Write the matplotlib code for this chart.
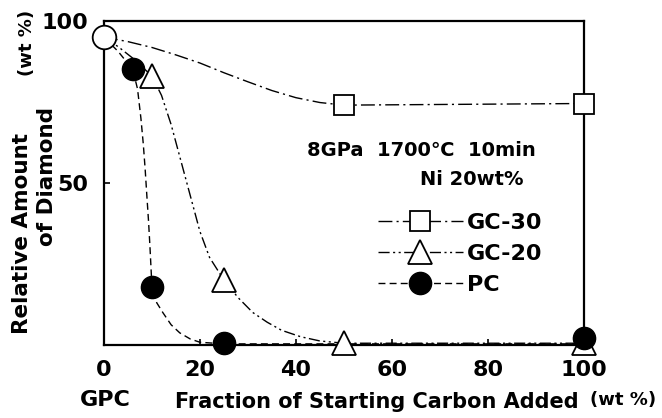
import matplotlib
matplotlib.use("Agg")
import matplotlib.pyplot as plt
from matplotlib.lines import Line2D

plt.rcParams['font.family'] = ['DejaVu Sans']
plt.rcParams['font.weight'] = 'bold'

# measured points (wt% added, relative amount of diamond wt%)
gpc_x, gpc_y = [0], [95]

gc30_x = [50, 100]
gc30_y = [74, 74.5]
gc20_x = [10, 25, 50, 100]
gc20_y = [83, 20, 0.5, 0.5]
pc_x = [6, 10, 25, 100]
pc_y = [85, 18, 0.5, 2]

# hand drawn guide curves
gc30_cx = [0, 5, 10, 15, 20, 25, 30, 35, 40, 45, 50, 100]
gc30_cy = [95, 93.6, 91.8, 89.5, 87, 84, 81.2, 78.5, 76.3, 74.8, 74, 74.5]
gc20_cx = [0, 3, 6, 10, 12, 14, 16, 18, 20, 22, 25, 28, 31, 34, 37, 41, 45, 50, 100]
gc20_cy = [95, 92, 88.5, 83, 77, 68, 57, 46, 35, 27, 20, 14.5, 10, 7, 4.5, 2.5, 1.2, 0.5, 0.5]
pc_cx = [0, 3, 6, 7, 7.7, 8.2, 8.6, 8.9, 9.3, 9.6, 10, 11, 12.3, 14, 15.8, 18, 20, 25, 100]
pc_cy = [95, 90.5, 85, 79, 70, 62, 54, 47, 38, 30, 18, 13, 9.9, 6.2, 3.7, 1.8, 0.8, 0.3, 0.3]

xticks = [0, 20, 40, 60, 80, 100]
yticks = [50, 100]

ls30 = (0, (10, 3, 1.5, 3))
ls20 = (0, (8, 2.5, 1.5, 2.5, 1.5, 2.5))
lspc = (0, (5, 3))

fig = plt.figure(figsize=(6.62, 4.18), dpi=100)
ax = fig.add_axes([0.157, 0.175, 0.725, 0.775])

ax.plot(gc30_cx, gc30_cy, color='black', lw=1.0, ls=ls30, zorder=2)
ax.plot(gc20_cx, gc20_cy, color='black', lw=1.0, ls=ls20, zorder=2)
ax.plot(pc_cx, pc_cy, color='black', lw=1.0, ls=lspc, zorder=2)

ax.plot(gc30_x, gc30_y, ls='none', marker='s', ms=15, mfc='white', mec='black', mew=1.3, clip_on=False, zorder=4)
ax.plot(gc20_x, gc20_y, ls='none', marker='^', ms=17, mfc='white', mec='black', mew=1.3, clip_on=False, zorder=4)
ax.plot(pc_x, pc_y, ls='none', marker='o', ms=16, mfc='black', mec='black', clip_on=False, zorder=5)
ax.plot(gpc_x, gpc_y, ls='none', marker='o', ms=17, mfc='white', mec='black', mew=1.3, clip_on=False, zorder=5)

ax.set_xlim(0, 100)
ax.set_ylim(0, 100)
ax.set_xticks(xticks)
ax.set_yticks(yticks)
ax.tick_params(direction='in', length=4, width=1.2, labelsize=16)
ax.tick_params(axis='x', pad=11)
ax.tick_params(axis='y', pad=11)
for s in ax.spines.values():
    s.set_linewidth(1.6)

ax.text(42.3, 60, "8GPa  1700℃  10min", fontsize=14, va='center', ha='left')
ax.text(65.8, 51, "Ni 20wt%", fontsize=14, va='center', ha='left')

handles = [
    Line2D([], [], color='black', lw=1.0, ls=ls30, marker='s', ms=15, mfc='white', mec='black', mew=1.3),
    Line2D([], [], color='black', lw=1.0, ls=ls20, marker='^', ms=17, mfc='white', mec='black', mew=1.3),
    Line2D([], [], color='black', lw=1.0, ls=lspc, marker='o', ms=16, mfc='black', mec='black'),
]
ax.legend(handles, ['GC-30', 'GC-20', 'PC'], loc='center left', bbox_to_anchor=(0.548, 0.28),
          frameon=False, handlelength=3.8, handletextpad=0.2, labelspacing=0.5, borderpad=0,
          numpoints=1, prop={'size': 16, 'weight': 'bold'})

# axis titles placed as in the original figure
fig.text(22 / 662, 1 - 234 / 418, "Relative Amount", rotation=90, fontsize=15.5, ha='center', va='center')
fig.text(47 / 662, 1 - 176 / 418, "of Diamond", rotation=90, fontsize=15.5, ha='center', va='center')
fig.text(27 / 662, 1 - 43 / 418, "(wt %)", rotation=90, fontsize=13, ha='center', va='center')
fig.text(105 / 662, 1 - 400 / 418, "GPC", fontsize=16, ha='center', va='center')
fig.text(175 / 662, 1 - 402 / 418, "Fraction of Starting Carbon Added", fontsize=15, ha='left', va='center')
fig.text(590 / 662, 1 - 400 / 418, "(wt %)", fontsize=13, ha='left', va='center')

fig.savefig("out.png", dpi=100)
